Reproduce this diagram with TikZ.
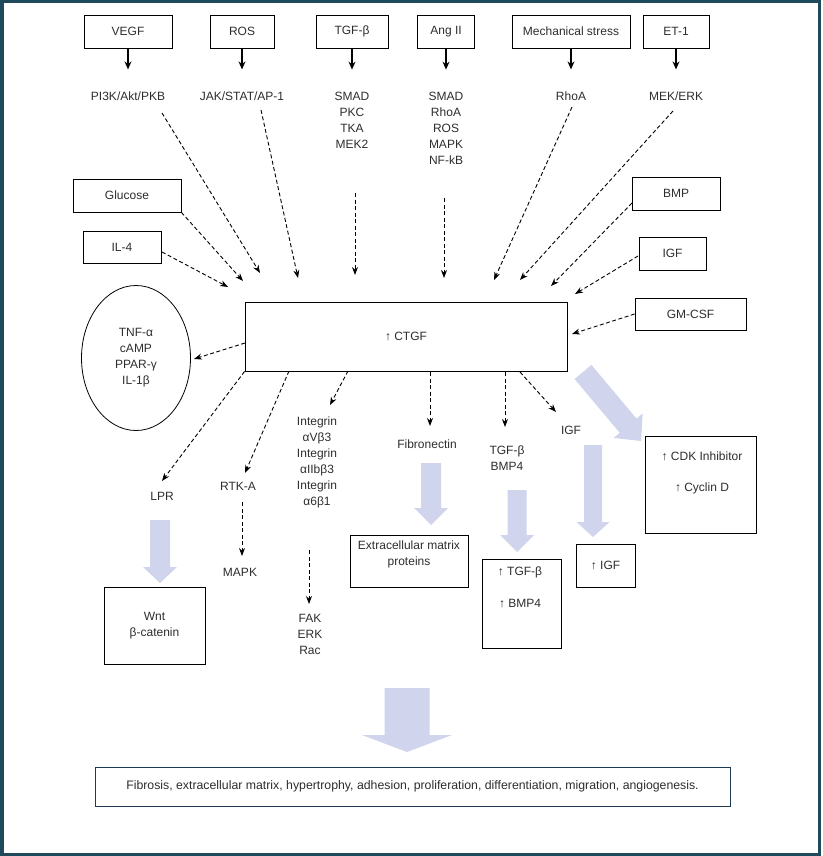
\documentclass[tikz,border=0pt]{standalone}
\usepackage{fontspec}
\setmainfont{Liberation Sans}
\usetikzlibrary{arrows.meta,calc,shapes.geometric}
\definecolor{framec}{RGB}{31,74,92}
\definecolor{fatc}{RGB}{208,212,236}
\definecolor{txtc}{RGB}{45,45,45}
\definecolor{botline}{RGB}{29,58,85}
\newcommand\fatarrow[5]{%
  \coordinate (fS) at (#1); \coordinate (fE) at (#2);
  \coordinate (fB) at ($(fE)!#5!(fS)$);
  \fill[fatc] ($(fS)!#3!90:(fE)$) -- ($(fB)!#3!90:(fE)$) -- ($(fB)!#4!90:(fE)$) -- (fE)
    -- ($(fB)!#4!-90:(fE)$) -- ($(fB)!#3!-90:(fE)$) -- ($(fS)!#3!-90:(fE)$) -- cycle;}
\begin{document}
\begin{tikzpicture}[x=1pt,y=-1pt,
  every node/.style={font=\fontsize{12}{16}\selectfont, text=txtc, inner sep=0pt},
  box/.style={draw=black, line width=0.8pt, align=center},
  lbl/.style={align=center},
  dashar/.style={draw=black, line width=0.9pt, dash pattern=on 4pt off 2.5pt, -{Stealth[length=8pt,width=6pt]}},
  solidar/.style={draw=black, line width=1.2pt, -{Stealth[length=8pt,width=7pt]}, shorten >=22pt}]
\useasboundingbox (0,0) rectangle (822,856);
\draw[framec, line width=3.5pt] (1.75,1.75) rectangle (819.5,854.25);

% top boxes
\node[box, minimum width=88pt, minimum height=33pt] (vegf) at (128,31.5) {VEGF};
\node[box, minimum width=64pt, minimum height=33pt] (ros) at (242,31.5) {ROS};
\node[box, minimum width=72pt, minimum height=33pt] (tgf) at (352,31.5) {TGF-β};
\node[box, minimum width=57pt, minimum height=33pt] (ang) at (446,31.5) {Ang II};
\node[box, minimum width=118pt, minimum height=33pt] (mech) at (571,31.5) {Mechanical stress};
\node[box, minimum width=66pt, minimum height=33pt] (et1) at (676,31.5) {ET-1};

% pathway texts
\node[lbl] (pi3k) at (128,96) {PI3K/Akt/PKB};
\node[lbl] (jak) at (242,96) {JAK/STAT/AP-1};
\node[lbl] (tgfl) at (352,120) {SMAD\\PKC\\TKA\\MEK2};
\node[lbl] (angl) at (446,128) {SMAD\\RhoA\\ROS\\MAPK\\NF-kB};
\node[lbl] (rhoa) at (571,96) {RhoA};
\node[lbl] (mekerk) at (676,96) {MEK/ERK};

\draw[solidar] (vegf) -- (pi3k);
\draw[solidar] (ros) -- (jak);
\draw[solidar] (tgf) -- (tgfl);
\draw[solidar] (ang) -- (angl);
\draw[solidar] (mech) -- (rhoa);
\draw[solidar] (et1) -- (mekerk);

% side inputs
\node[box, minimum width=108pt, minimum height=33pt] (glucose) at (127,195.5) {Glucose};
\node[box, minimum width=78pt, minimum height=32pt] (il4) at (122,247) {IL-4};
\node[box, minimum width=88pt, minimum height=33pt] (bmp) at (676,193.5) {BMP};
\node[box, minimum width=67pt, minimum height=33pt] (igfin) at (672.5,253.5) {IGF};
\node[box, minimum width=111pt, minimum height=32pt] (gmcsf) at (690.5,314) {GM-CSF};

% CTGF
\node[box, minimum width=322pt, minimum height=69pt] (ctgf) at (406,336.5) {↑ CTGF};

% ellipse
\node[draw=black, line width=0.8pt, ellipse, minimum width=109pt, minimum height=145pt, align=center] (ell) at (136,358) {TNF-α\\cAMP\\PPAR-γ\\IL-1β};

% downstream texts
\node[lbl] (lpr) at (162,496) {LPR};
\node[lbl] (rtka) at (238,486) {RTK-A};
\node[lbl] (integ) at (317,462) {Integrin\\αVβ3\\Integrin\\αIIbβ3\\Integrin\\α6β1};
\node[lbl] (fibro) at (427,444) {Fibronectin};
\node[lbl] (tgfbmp) at (507,458) {TGF-β\\BMP4};
\node[lbl] (igfout) at (571,430) {IGF};
\node[lbl] (mapk) at (240,572) {MAPK};
\node[lbl] (fak) at (310,634) {FAK\\ERK\\Rac};

% result boxes
\node[box, minimum width=101pt, minimum height=77pt] (wnt) at (154.5,625.5) {Wnt\\β-catenin};
\node[box, minimum width=118pt, minimum height=52pt] (ecm) at (409,561) {};
\node[lbl] (ecmt) at (409,554) {Extracellular matrix\\proteins};
\node[box, minimum width=79pt, minimum height=89pt] (tgfbox) at (521.5,603.5) {};
\node[lbl] (tgfboxt) at (520,587) {↑ TGF-β\\[16pt]↑ BMP4};
\node[box, minimum width=59pt, minimum height=43pt] (igfbox) at (605.5,565.5) {↑ IGF};
\node[box, minimum width=111pt, minimum height=97pt] (cdk) at (700.5,484.5) {};
\node[lbl] (cdkt) at (702,472.5) {↑ CDK Inhibitor\\[15pt]↑ Cyclin D};
\node[draw=botline, line width=0.9pt, minimum width=635pt, minimum height=39pt, font=\fontsize{12.3}{14}\selectfont] (final) at (412.5,786.5) {Fibrosis, extracellular matrix, hypertrophy, adhesion, proliferation, differentiation, migration, angiogenesis.};

% coordinates for dashed connectors
\coordinate (s1) at (162,113); \coordinate (e1) at (260,273);
\coordinate (s2) at (261,110); \coordinate (e2) at (298,278);
\coordinate (s3) at (355,193); \coordinate (e3) at (355,275);
\coordinate (s4) at (444,198); \coordinate (e4) at (444,278);
\coordinate (s5) at (572,107); \coordinate (e5) at (494,280);
\coordinate (s6) at (673,111); \coordinate (e6) at (520,280);
\coordinate (e7) at (243,281);
\coordinate (s8) at (162,252); \coordinate (e8) at (228,287);
\coordinate (s9) at (632,203); \coordinate (e9) at (551,286);
\coordinate (s10) at (638,256); \coordinate (e10) at (575,294);
\coordinate (e11) at (572,334);
\coordinate (s12) at (245,343); \coordinate (e12) at (194,359);
\coordinate (e13) at (162,481);
\coordinate (s14) at (289,371); \coordinate (e14) at (245,473);
\coordinate (s15) at (348,371); \coordinate (e15) at (330,405);
\coordinate (s16) at (430,372); \coordinate (e16) at (430,426);
\coordinate (s17) at (505,372); \coordinate (e17) at (505,427);
\coordinate (s18) at (520,372); \coordinate (e18) at (556,412);
\coordinate (s19) at (242,502); \coordinate (e19) at (242,556);
\coordinate (s20) at (309,550); \coordinate (e20) at (309,604);

\draw[dashar] (s1) -- (e1);
\draw[dashar] (s2) -- (e2);
\draw[dashar] (s3) -- (e3);
\draw[dashar] (s4) -- (e4);
\draw[dashar] (s5) -- (e5);
\draw[dashar] (s6) -- (e6);
\draw[dashar] (glucose.south east) -- (e7);
\draw[dashar] (s8) -- (e8);
\draw[dashar] (s9) -- (e9);
\draw[dashar] (s10) -- (e10);
\draw[dashar] (gmcsf.west) -- (e11);
\draw[dashar] (s12) -- (e12);
\draw[dashar] (ctgf.south west) -- (e13);
\draw[dashar] (s14) -- (e14);
\draw[dashar] (s15) -- (e15);
\draw[dashar] (s16) -- (e16);
\draw[dashar] (s17) -- (e17);
\draw[dashar] (s18) -- (e18);
\draw[dashar] (s19) -- (e19);
\draw[dashar] (s20) -- (e20);

% fat arrows
\coordinate (f1s) at (160,520); \coordinate (f1e) at (160,583);
\coordinate (f2s) at (431,463); \coordinate (f2e) at (431,525);
\coordinate (f3s) at (517,490); \coordinate (f3e) at (517,552);
\coordinate (f4s) at (593,445); \coordinate (f4e) at (593,537);
\coordinate (f5s) at (583,372); \coordinate (f5e) at (641,441);
\coordinate (f6s) at (407,688); \coordinate (f6e) at (407,752);
\fatarrow{f1s}{f1e}{10pt}{17pt}{16pt}
\fatarrow{f2s}{f2e}{10pt}{17pt}{17pt}
\fatarrow{f3s}{f3e}{9.5pt}{17pt}{17pt}
\fatarrow{f4s}{f4e}{9pt}{16.5pt}{15pt}
\fatarrow{f5s}{f5e}{11pt}{19pt}{20pt}
\fatarrow{f6s}{f6e}{22.5pt}{45pt}{17pt}
\end{tikzpicture}
\end{document}
